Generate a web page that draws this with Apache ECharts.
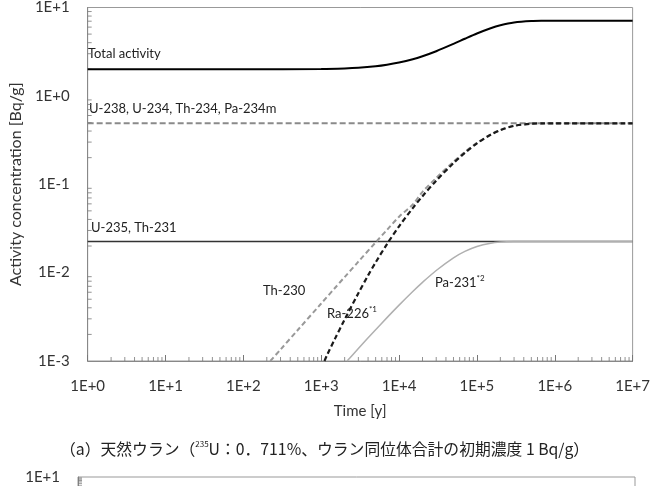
<!DOCTYPE html>
<html>
<head>
<meta charset="utf-8">
<script src="https://cdn.jsdelivr.net/npm/echarts@6/dist/echarts.min.js"></script>
<style>
  html, body { margin: 0; padding: 0; background: #fff; }
  #chart { width: 653px; height: 486px; }
</style>
</head>
<body>
<div id="chart"></div>
<script>
// 時間 [y] と放射能濃度 [Bq/g]
const totalTime = [1, 100, 1000, 2000, 3000, 5000, 7000, 1e4, 1.5e4, 2e4, 3e4, 5e4, 7e4, 1e5, 1.5e5, 2e5, 3e5, 5e5, 7e5, 1e6, 1e7]
const totalVal = [2.001, 2.002, 2.017, 2.045, 2.079, 2.161, 2.249, 2.383, 2.599, 2.813, 3.203, 3.875, 4.428, 5.081, 5.83, 6.298, 6.777, 7.043, 7.085, 7.09, 7.09]

const th230Time = [222, 300, 500, 1000, 1500, 2000, 3000, 5000, 7000, 1e4, 1.5e4, 2e4, 3e4, 5e4, 7e4, 1e5, 1.5e5, 2e5, 3e5, 5e5, 7e5, 1e6, 1e7]
const th230Val = [0.001, 0.001347, 0.002243, 0.004476, 0.006698, 0.00891, 0.0133, 0.02197, 0.03048, 0.04296, 0.05911, 0.08215, 0.1179, 0.1802, 0.2321, 0.294, 0.3659, 0.4112, 0.458, 0.4841, 0.4882, 0.489, 0.489]

const ra226Time = [1100, 1200, 1500, 2000, 3000, 4000, 5000, 7000, 1e4, 1.5e4, 2e4, 3e4, 5e4, 7e4, 1e5, 1.5e5, 2e5, 3e5, 5e5, 7e5, 1e6, 1e7]
const ra226Val = [0.001, 0.001188, 0.00178, 0.00295, 0.00585, 0.009307, 0.01305, 0.02105, 0.03342, 0.05377, 0.07332, 0.1098, 0.1735, 0.2265, 0.2898, 0.3632, 0.4096, 0.4573, 0.484, 0.4881, 0.489, 0.489]

const pa231Time = [2150, 3000, 5000, 7000, 1e4, 1.5e4, 2e4, 3e4, 5e4, 7e4, 1e5, 1.5e5, 2e5, 3e5, 5e5, 1e6, 1e7]
const pa231Val = [0.001, 0.001384, 0.002259, 0.003097, 0.00429, 0.006118, 0.007763, 0.01057, 0.01469, 0.01738, 0.01979, 0.02156, 0.02217, 0.02246, 0.0225, 0.0225, 0.0225]

const flatTime = [1, 1e7]
const u238Val = [0.489, 0.489]
const u235Val = [0.0225, 0.0225]

// 補助目盛
const minorMults = [2, 3, 4, 5, 6, 7, 8, 9]
const xDecades = [1, 10, 100, 1e3, 1e4, 1e5, 1e6]
const yDecades = [0.001, 0.01, 0.1, 1]

const pairs = (t, v) => t.map((x, i) => [x, v[i]])
const xMinor = []
xDecades.forEach(d => minorMults.forEach(m => xMinor.push([d * m, 0.001])))
const yMinor = []
yDecades.forEach(d => minorMults.forEach(m => yMinor.push([1, d * m])))

const FONT = 'Lato'
const expLabel = (v) => {
  const e = Math.round(Math.log10(v))
  return '1E' + (e >= 0 ? '+' : '-') + Math.abs(e)
}

const chart = echarts.init(document.getElementById('chart'))

const lineBase = { type: 'line', showSymbol: false, symbol: 'none', silent: true, smooth: 0.3 }
const tickBase = { type: 'scatter', silent: true, clip: false, itemStyle: { color: '#777' }, symbol: 'rect' }

const yAxisBase = {
  type: 'log', logBase: 10, min: 0.001, max: 10, splitNumber: 4,
  axisLine: { show: true, lineStyle: { color: '#888' } },
  axisTick: { show: false },
  splitLine: { show: false },
  axisLabel: { formatter: expLabel, fontFamily: FONT, fontSize: 15, color: '#333', margin: 18 }
}

// 上付き文字つきラベル
const supLabel = (left, top, main, sup) => ({
  type: 'text', left, top,
  style: {
    text: '{a|' + main + '}{s|' + sup + '}', fill: '#222',
    rich: {
      a: { fontFamily: FONT, fontSize: 13, lineHeight: 15, verticalAlign: 'bottom' },
      s: { fontFamily: FONT, fontSize: 8, lineHeight: 15, verticalAlign: 'top' }
    }
  }
})

const option = {
  animation: false,
  grid: [
    { left: 78, right: 18, top: 5, bottom: 125, show: true, borderColor: '#999', borderWidth: 1 },
    { left: 78, right: 18, top: 477, height: 356, show: true, borderColor: '#999', borderWidth: 1 }
  ],
  xAxis: [
    {
      type: 'log', logBase: 10, min: 1, max: 1e7, splitNumber: 7, gridIndex: 0,
      axisLine: { show: true, lineStyle: { color: '#888' } },
      axisTick: { show: true, inside: true, length: 6, lineStyle: { color: '#777' } },
      splitLine: { show: false },
      axisLabel: { formatter: expLabel, fontFamily: FONT, fontSize: 15, color: '#333', margin: 18 },
      name: 'Time [y]', nameLocation: 'middle', nameGap: 43,
      nameTextStyle: { fontFamily: FONT, fontSize: 15, color: '#333' }
    },
    { type: 'log', logBase: 10, min: 1, max: 1e7, gridIndex: 1, show: false }
  ],
  yAxis: [
    Object.assign({}, yAxisBase, {
      gridIndex: 0,
      name: 'Activity concentration [Bq/g]', nameLocation: 'middle', nameGap: 54,
      nameTextStyle: { fontFamily: FONT, fontSize: 16, color: '#333' }
    }),
    Object.assign({}, yAxisBase, { gridIndex: 1 })
  ],
  series: [
    Object.assign({}, tickBase, { data: xMinor, symbolSize: [1, 4], symbolOffset: [0, -2] }),
    Object.assign({}, tickBase, { data: yMinor, symbolSize: [4, 1], symbolOffset: [2, 0] }),
    Object.assign({}, tickBase, { data: yMinor, symbolSize: [4, 1], symbolOffset: [2, 0], xAxisIndex: 1, yAxisIndex: 1 }),
    Object.assign({}, lineBase, { name: 'U-238', data: pairs(flatTime, u238Val), smooth: false,
      lineStyle: { color: '#8a8a8a', width: 2, type: [6, 3] } }),
    Object.assign({}, lineBase, { name: 'U-235', data: pairs(flatTime, u235Val), smooth: false,
      lineStyle: { color: '#333', width: 1.5 } }),
    Object.assign({}, lineBase, { name: 'Th-230', data: pairs(th230Time, th230Val),
      lineStyle: { color: '#999', width: 2, type: [5, 3] } }),
    Object.assign({}, lineBase, { name: 'Pa-231', data: pairs(pa231Time, pa231Val),
      lineStyle: { color: '#b0b0b0', width: 1.5 } }),
    Object.assign({}, lineBase, { name: 'Ra-226', data: pairs(ra226Time, ra226Val),
      lineStyle: { color: '#1a1a1a', width: 2.2, type: [5, 3] } }),
    Object.assign({}, lineBase, { name: 'Total', data: pairs(totalTime, totalVal),
      lineStyle: { color: '#000', width: 2 } })
  ],
  graphic: [
    { type: 'text', left: 88, top: 47, style: { text: 'Total activity', font: '13px Lato', fill: '#222' } },
    { type: 'text', left: 89, top: 102, style: { text: 'U-238, U-234, Th-234, Pa-234m', font: '13px Lato', fill: '#222' } },
    { type: 'text', left: 91, top: 221, style: { text: 'U-235, Th-231', font: '13px Lato', fill: '#222' } },
    { type: 'text', left: 263, top: 284, style: { text: 'Th-230', font: '13px Lato', fill: '#222' } },
    supLabel(327, 305, 'Ra-226', '*1'),
    supLabel(435, 274, 'Pa-231', '*2'),
    {
      type: 'text', left: 60, top: 437,
      style: {
        text: '{a|（a）天然ウラン（}{s|235}{a|U：0．711%、ウラン同位体合計の初期濃度 1 Bq/g）}', fill: '#222',
        rich: {
          a: { fontFamily: 'Noto Sans CJK JP', fontSize: 15.8, lineHeight: 20, verticalAlign: 'bottom' },
          s: { fontFamily: 'Noto Sans CJK JP', fontSize: 8, lineHeight: 20, verticalAlign: 'top', padding: [3, 0, 0, 0] }
        }
      }
    }
  ]
}

chart.setOption(option)
window.addEventListener('resize', () => chart.resize())
</script>
</body>
</html>
